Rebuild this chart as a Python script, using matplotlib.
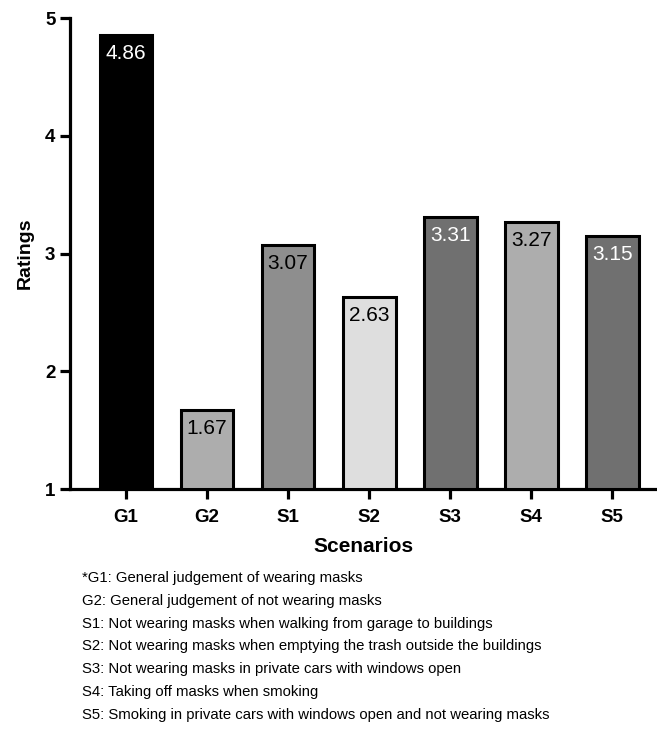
import matplotlib.pyplot as plt
from matplotlib import font_manager

plt.rcParams['font.family'] = ['Liberation Sans', 'DejaVu Sans']

scenarios = ['G1', 'G2', 'S1', 'S2', 'S3', 'S4', 'S5']
ratings = [4.86, 1.67, 3.07, 2.63, 3.31, 3.27, 3.15]
bar_colors = ['#000000', '#adadad', '#8e8e8e', '#dedede', '#707070', '#adadad', '#707070']
label_colors = ['white', 'black', 'black', 'black', 'white', 'black', 'white']
notes = [
    '*G1: General judgement of wearing masks',
    'G2: General judgement of not wearing masks',
    'S1: Not wearing masks when walking from garage to buildings',
    'S2: Not wearing masks when emptying the trash outside the buildings',
    'S3: Not wearing masks in private cars with windows open',
    'S4: Taking off masks when smoking',
    'S5: Smoking in private cars with windows open and not wearing masks',
]

# narrow face for the footnote if it is there
names = {f.name for f in font_manager.fontManager.ttflist}
if 'Liberation Sans Narrow' in names:
    note_family, note_size = 'Liberation Sans Narrow', 12.6
else:
    note_family, note_size = 'Liberation Sans', 10.7

fig = plt.figure(figsize=(6.57, 7.29), dpi=100)
ax = fig.add_axes([0.1065, 0.329, 0.8935, 0.646])

x = range(len(scenarios))
base = 1
ax.bar(x, [r - base for r in ratings], bottom=base, width=0.65,
       color=bar_colors, edgecolor='black', linewidth=2.2, zorder=3)

for i, (r, c) in enumerate(zip(ratings, label_colors)):
    ax.annotate(f'{r:.2f}', (i, r), xytext=(0, -6.5), textcoords='offset points',
                ha='center', va='top', fontsize=15, color=c, zorder=4)

ax.set_ylim(1, 5)
ax.set_xlim(-0.69, 6.55)
ax.set_yticks([1, 2, 3, 4, 5])
ax.set_xticks(list(x))
ax.set_xticklabels(scenarios)
for lab in ax.get_xticklabels() + ax.get_yticklabels():
    lab.set_fontweight('bold')
    lab.set_fontsize(13.5)

ax.spines['top'].set_visible(False)
ax.spines['right'].set_visible(False)
ax.spines['left'].set_linewidth(2.3)
ax.spines['bottom'].set_linewidth(2.3)
ax.tick_params(axis='both', direction='out', length=7.5, width=2.3, pad=3)
ax.tick_params(axis='x', pad=7)

ax.set_ylabel('Ratings', fontsize=14, fontweight='bold', labelpad=8)
ax.set_xlabel('Scenarios', fontsize=15, fontweight='bold', labelpad=8)

y0 = 1 - 578 / 729
for k, line in enumerate(notes):
    fig.text(82 / 657, y0 - k * 22.8 / 729, line, fontsize=note_size,
             family=note_family, va='center', ha='left')

fig.savefig('out.png', dpi=100)
